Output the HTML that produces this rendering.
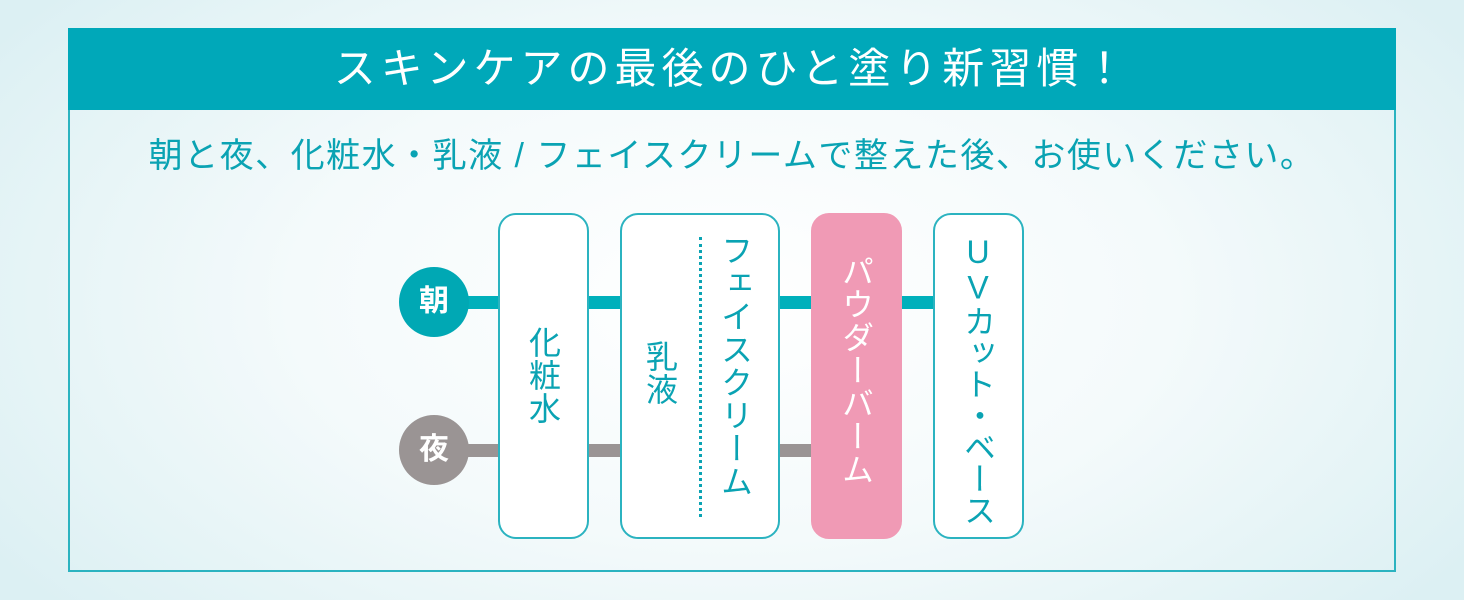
<!DOCTYPE html>
<html><head><meta charset="utf-8"><style>
*{margin:0;padding:0;box-sizing:border-box}
body{width:1464px;height:600px;overflow:hidden;position:relative;font-family:"Liberation Sans","Noto Sans CJK JP",sans-serif;
background:radial-gradient(ellipse 60% 80% at 50% 50%,#ffffff 0%,#f4fafb 50%,#dcf0f3 100%);}
.frame{position:absolute;left:68px;top:28px;width:1328px;height:544px;border:2px solid #2bb3c0;}
.head{position:absolute;left:68px;top:28px;width:1328px;height:82px;background:#00a8b9;color:#fff;font-size:42px;text-align:center;line-height:82px;letter-spacing:5px;}
.sub{position:absolute;left:68px;top:134px;width:1328px;text-align:center;color:#0aa3b3;font-size:34px;line-height:44px;letter-spacing:1.5px;white-space:nowrap}
.line{position:absolute;height:13px}
.circ{position:absolute;width:70px;height:70px;border-radius:50%;color:#fff;font-weight:bold;font-size:30px;text-align:center;line-height:70px}
.box{position:absolute;top:213px;height:326px;border:2px solid #2bb3c0;border-radius:18px;background:#fff}
.v{position:absolute;writing-mode:vertical-rl;text-orientation:upright;font-size:32px;color:#0aa3b3;line-height:34px;letter-spacing:1px}
</style></head><body>
<div class="frame"></div>
<div class="head">スキンケアの最後のひと塗り新習慣！</div>
<div class="sub">朝と夜、化粧水・乳液 / フェイスクリームで整えた後、お使いください。</div>
<div class="line" style="left:440px;top:296px;width:500px;background:#00b0bb"></div>
<div class="line" style="left:440px;top:444px;width:390px;background:#9a9494"></div>
<div class="circ" style="left:399px;top:267px;background:#00a8b4">朝</div>
<div class="circ" style="left:399px;top:415px;background:#9a9494">夜</div>
<div class="box" style="left:498px;width:91px"></div>
<div class="box" style="left:620px;width:160px"></div>
<div class="box" style="left:811px;width:91px;background:#f09ab5;border-color:#f09ab5"></div>
<div class="box" style="left:933px;width:91px"></div>
<div style="position:absolute;left:699px;top:237px;height:280px;border-left:3px dotted #0aa3b3"></div>
<div class="v" style="left:526px;top:326px">化粧水</div>
<div class="v" style="left:643px;top:340px">乳液</div>
<div class="v" style="left:718px;top:234px">フェイスクリーム</div>
<div class="v" style="left:839px;top:255px;color:#fff">パウダーバーム</div>
<div class="v" style="left:961px;top:234px;letter-spacing:-0.5px">UVカット・ベース</div>
</body></html>
